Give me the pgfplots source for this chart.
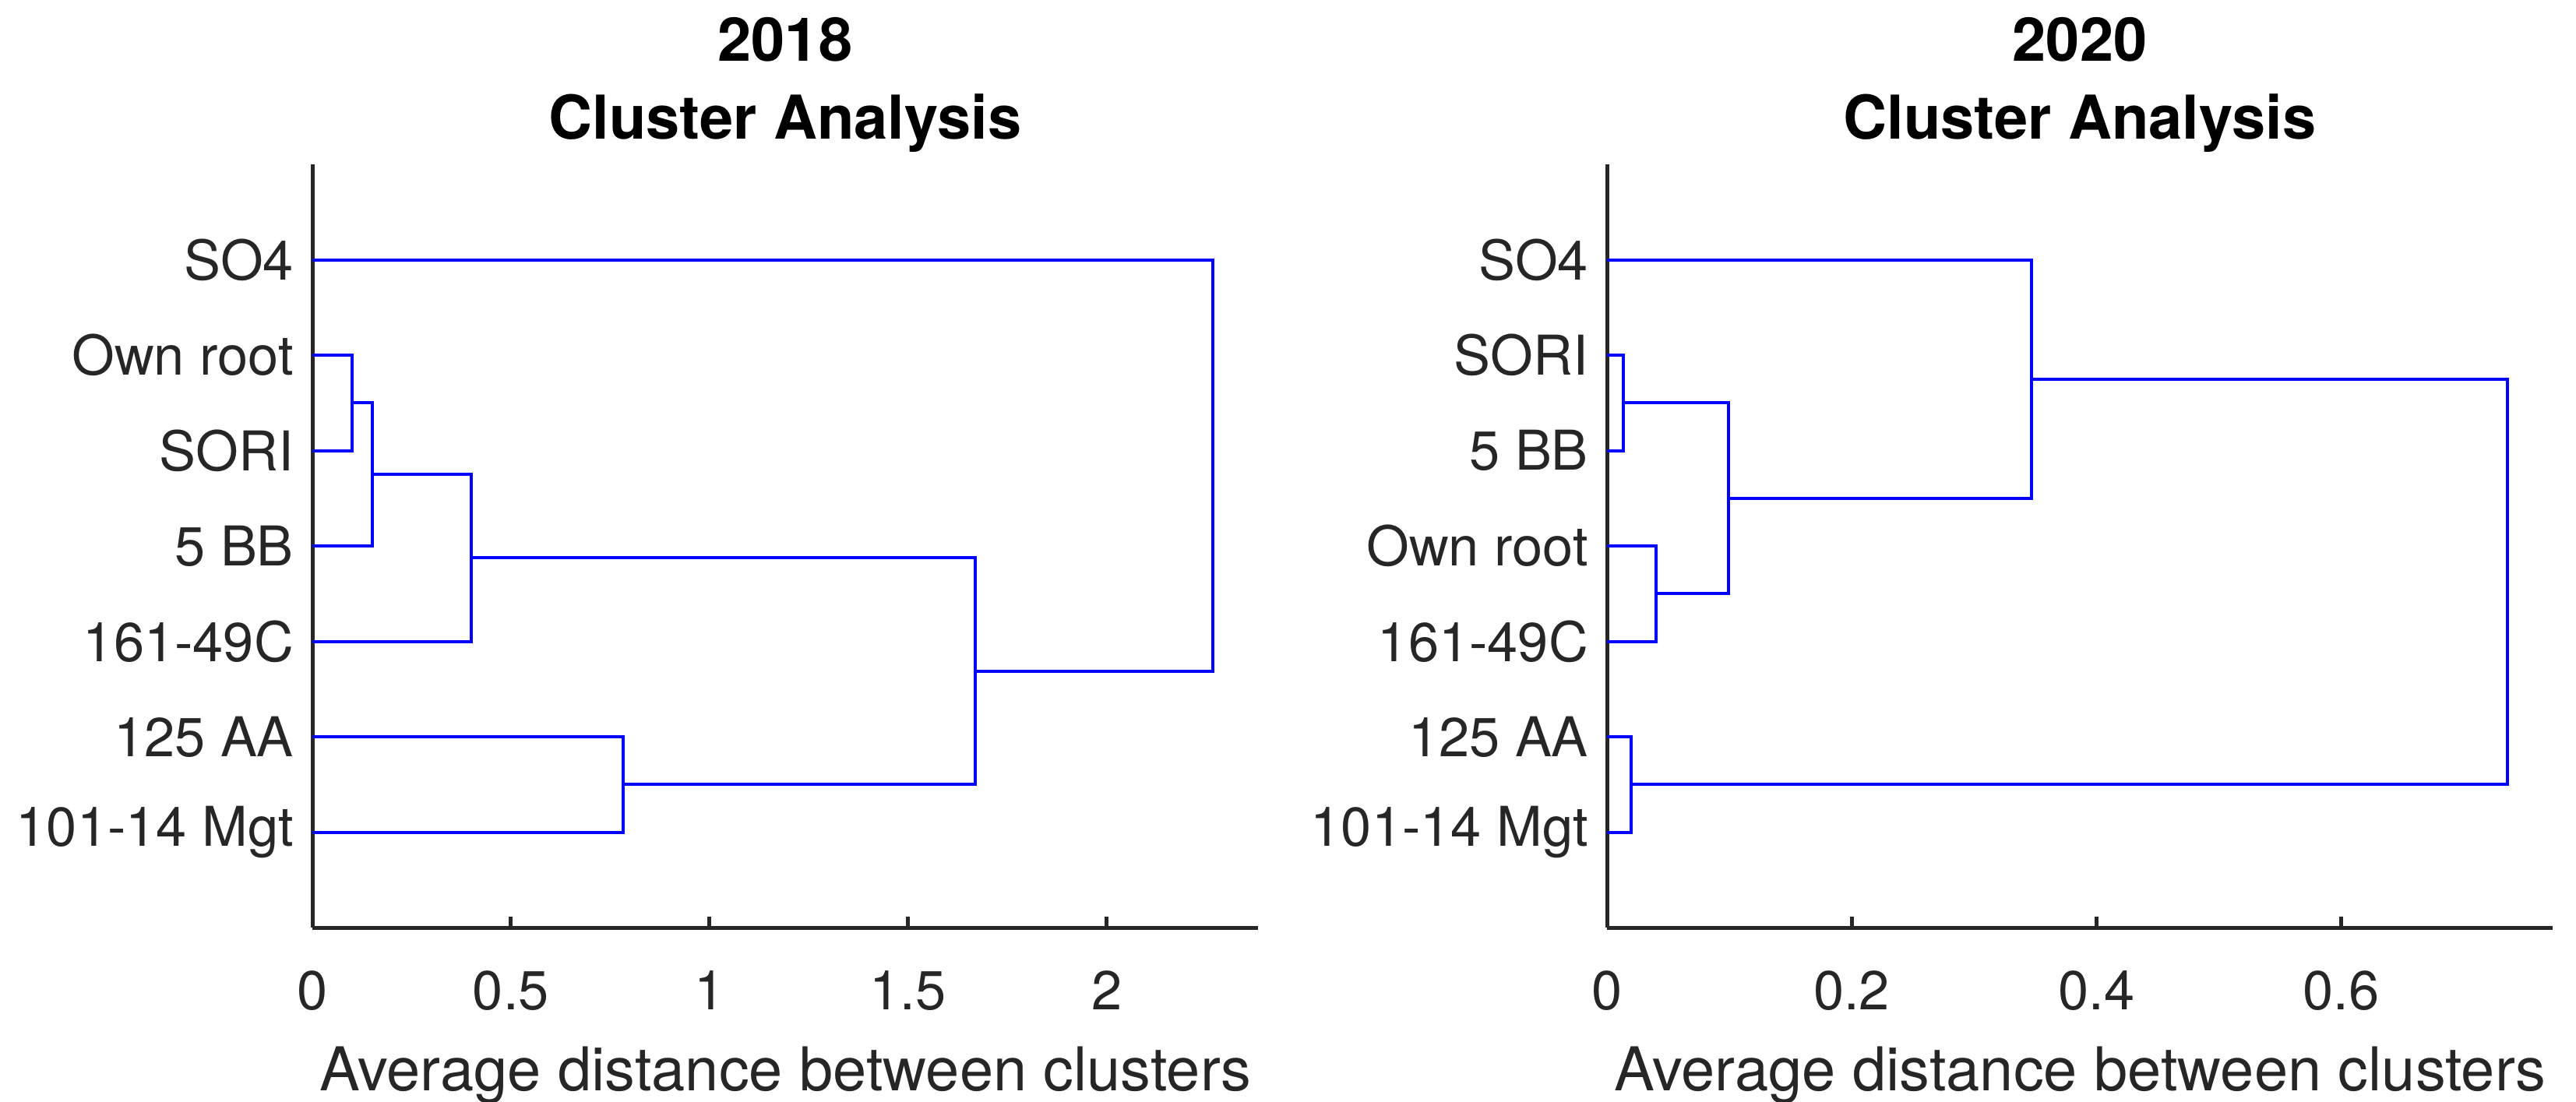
\documentclass[border=0pt]{standalone}
\usepackage{fontspec}
\setmainfont{TeX Gyre Heros}
\usepackage{pgfplots}
\pgfplotsset{compat=1.18}
\definecolor{mlblue}{rgb}{0,0,1}
\definecolor{axgray}{HTML}{262626}

% one dendrogram panel, MATLAB look
\pgfplotsset{
  link/.style={mlblue, solid, line width=1bp, mark=none},
  dendro/.style={
  scale only axis, width=303.5bp, height=245bp,
  anchor=south west,
  axis lines*=left,
  axis line style={axgray, line width=1.25bp, -},
  xmin=0, ymin=0, ymax=8,
  ytick={1,...,7},
  tick align=inside,
  major tick length=3.5bp,
  y tick style={draw=none},
  x tick style={axgray, line width=1.25bp},
  tick label style={font=\fontsize{17.6bp}{21bp}\selectfont, text=axgray},
  /pgf/number format/assume math mode=true,
  xticklabel style={yshift=-10.5bp},
  yticklabel style={xshift=-2.5bp},
  xlabel={Average distance between clusters},
  xlabel style={font=\fontsize{19.4bp}{23bp}\selectfont, text=axgray,
    at={(rel axis cs:0.5,0)}, anchor=base, yshift=-52.25bp},
  title style={font=\fontsize{19.4bp}{25bp}\selectfont\bfseries,
    align=center, inner sep=0pt,
    at={(rel axis cs:0.5,1)}, anchor=south, yshift=-2.4bp},
}}

\begin{document}
\begin{tikzpicture}
\path[use as bounding box] (0,0) rectangle (826.75bp,353.75bp);

% 2018
\begin{axis}[dendro, at={(100.25bp,56bp)},
  xmax=2.3814, xtick={0,0.5,1,1.5,2},
  yticklabels={101-14 Mgt,125 AA,161-49C,5 BB,SORI,Own root,SO4},
  title={2018\\Cluster Analysis}]
  \addplot[link] coordinates {(0,6) (0.101,6) (0.101,5) (0,5)};
  \addplot[link] coordinates {(0.101,5.5) (0.151,5.5) (0.151,4) (0,4)};
  \addplot[link] coordinates {(0.151,4.75) (0.400,4.75) (0.400,3) (0,3)};
  \addplot[link] coordinates {(0,2) (0.782,2) (0.782,1) (0,1)};
  \addplot[link] coordinates {(0.400,3.875) (1.670,3.875) (1.670,1.5) (0.782,1.5)};
  \addplot[link] coordinates {(0,7) (2.268,7) (2.268,2.6875) (1.670,2.6875)};
\end{axis}

% 2020
\begin{axis}[dendro, at={(515.75bp,56bp)},
  xmax=0.7728, xtick={0,0.2,0.4,0.6},
  yticklabels={101-14 Mgt,125 AA,161-49C,Own root,5 BB,SORI,SO4},
  title={2020\\Cluster Analysis}]
  \addplot[link] coordinates {(0,6) (0.0135,6) (0.0135,5) (0,5)};
  \addplot[link] coordinates {(0,4) (0.040,4) (0.040,3) (0,3)};
  \addplot[link] coordinates {(0.0135,5.5) (0.099,5.5) (0.099,3.5) (0.040,3.5)};
  \addplot[link] coordinates {(0,7) (0.347,7) (0.347,4.5) (0.099,4.5)};
  \addplot[link] coordinates {(0,2) (0.0195,2) (0.0195,1) (0,1)};
  \addplot[link] coordinates {(0.347,5.75) (0.736,5.75) (0.736,1.5) (0.0195,1.5)};
\end{axis}
\end{tikzpicture}
\end{document}
